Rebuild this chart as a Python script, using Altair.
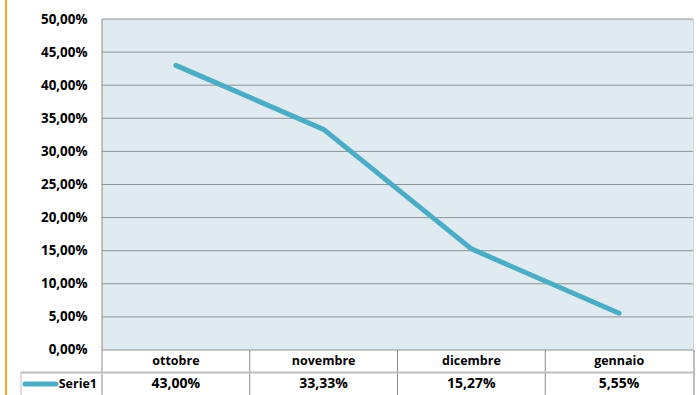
import altair as alt
import pandas as pd

months = ["ottobre", "novembre", "dicembre", "gennaio"]
values = [0.43, 0.3333, 0.1527, 0.0555]
value_labels = ["43,00%", "33,33%", "15,27%", "5,55%"]
series_name = "Serie1"
y_ticks = [0.0, 0.05, 0.10, 0.15, 0.20, 0.25, 0.30, 0.35, 0.40, 0.45, 0.50]

idx = list(range(len(months)))
df = pd.DataFrame({"i": idx, "month": months, "v": values, "lab": value_labels})

W, H = 591, 376
Y_DOM = [-0.068, 0.5]
ROW1 = -0.0166
ROW2 = -0.0514
ROWSEP = -0.034
YMIN = Y_DOM[0]

FONT = "Open Sans"
FS_AXIS = 13.4
FS_HEAD = 12.5
FS_VAL = 14
LINE_COLOR = "#4BACC6"
GRID = "#8C9396"
TBL = "#BFBFBF"
DARK = "#8C8C8C"

xscale = alt.Scale(domain=[-0.5, 3.5], nice=False, zero=False)
yscale = alt.Scale(domain=Y_DOM, nice=False, zero=False)
x = alt.X("i:Q", scale=xscale, axis=None)
yaxis = alt.Axis(
    values=y_ticks, labelExpr="replace(format(datum.value, '.2%'), '.', ',')",
    labelFont=FONT, labelFontSize=FS_AXIS, labelFontWeight="bold", labelColor="#000000",
    domain=False, ticks=False, grid=False, labelPadding=15, title=None)


def Y(f):
    return alt.Y(f, scale=yscale, axis=yaxis)


# plot background
bg = alt.Chart(pd.DataFrame({"y0": [0.5], "y1": [0.0]})).mark_rect(color="#DFEBF0").encode(
    x=alt.value(0), x2=alt.value(W), y=Y("y0:Q"), y2="y1:Q",
)

# grid
grid = alt.Chart(pd.DataFrame({"t": y_ticks})).mark_rule(color=GRID, strokeWidth=1).encode(
    x=alt.value(0), x2=alt.value(W), y=Y("t:Q"),
)

line = alt.Chart(df).mark_line(color=LINE_COLOR, strokeWidth=5, strokeCap="round").encode(
    x=x, y=Y("v:Q"),
)

# table structure
vlines = alt.Chart(pd.DataFrame({"b": [-0.5, 0.5, 1.5, 2.5], "y0": [0.0] * 4, "y1": [YMIN] * 4})).mark_rule(
    color=DARK, strokeWidth=1).encode(
    x=alt.X("b:Q", scale=xscale, axis=None), y=Y("y0:Q"), y2="y1:Q",
)
left_plot_border = alt.Chart(pd.DataFrame({"y0": [0.5], "y1": [0.0]})).mark_rule(color=DARK, strokeWidth=1).encode(
    x=alt.value(0), y=Y("y0:Q"), y2="y1:Q",
)
right_plot_border = alt.Chart(pd.DataFrame({"y0": [0.5], "y1": [0.0]})).mark_rule(color="#D0D8DB", strokeWidth=1).encode(
    x=alt.value(W + 0.5), y=Y("y0:Q"), y2="y1:Q",
)
right_border = alt.Chart(pd.DataFrame({"y0": [0.0], "y1": [YMIN]})).mark_rule(color=TBL, strokeWidth=2).encode(
    x=alt.value(W + 1), y=Y("y0:Q"), y2="y1:Q",
)
row_sep = alt.Chart(pd.DataFrame({"y0": [ROWSEP]})).mark_rule(color=TBL, strokeWidth=2).encode(
    x=alt.value(-81), x2=alt.value(W), y=Y("y0:Q"),
)
legend_left = alt.Chart(pd.DataFrame({"y0": [ROWSEP], "y1": [YMIN]})).mark_rule(color=TBL, strokeWidth=1).encode(
    x=alt.value(-81), y=Y("y0:Q"), y2="y1:Q",
)
legend_key = alt.Chart(pd.DataFrame({"y0": [ROW2]})).mark_rule(color=LINE_COLOR, strokeWidth=5, strokeCap="round").encode(
    x=alt.value(-77), x2=alt.value(-46), y=Y("y0:Q"),
)
legend_text = alt.Chart(pd.DataFrame({"s": [series_name], "y0": [ROW2]})).mark_text(
    font=FONT, fontSize=FS_HEAD, fontWeight="bold", align="right", baseline="middle", color="#000000"
).encode(x=alt.value(-5), y=Y("y0:Q"), text="s:N")

df["r1"] = ROW1
df["r2"] = ROW2
head = alt.Chart(df).mark_text(font=FONT, fontSize=FS_HEAD, fontWeight="bold", baseline="middle", color="#000000").encode(
    x=x, y=Y("r1:Q"), text="month:N")
vals = alt.Chart(df).mark_text(font=FONT, fontSize=FS_VAL, fontWeight="bold", baseline="middle", color="#000000").encode(
    x=x, y=Y("r2:Q"), text="lab:N")

orange = alt.Chart(pd.DataFrame({"y0": [0.5 + 19 / 662], "y1": [YMIN]})).mark_rule(color="#F5A623", strokeWidth=2).encode(
    x=alt.value(-96), y=Y("y0:Q"), y2="y1:Q",
)

chart = alt.layer(
    bg, grid, left_plot_border, right_plot_border, vlines, right_border, row_sep,
    legend_left, legend_key, legend_text, head, vals, line, orange
).properties(
    width=W, height=H,
    autosize=alt.AutoSizeParams(type="none"),
    padding={"left": 102, "top": 19, "right": 3, "bottom": 0},
).configure_view(stroke=None)

chart.save("out.html", embed_options={"renderer": "svg", "actions": False})
